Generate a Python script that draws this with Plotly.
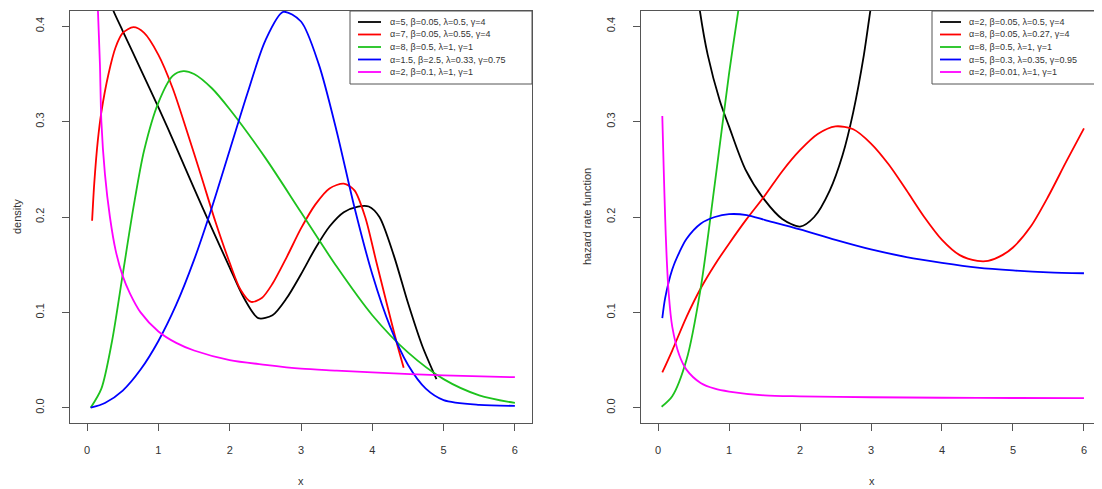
import plotly.graph_objects as go

# ---------------- data ----------------
# Left panel: density
d_black_x = [0.33, 0.37, 0.5, 0.75, 1.0, 1.25, 1.5, 1.75, 2.0, 2.2, 2.4, 2.6, 2.8, 3.0, 3.2, 3.4, 3.6, 3.8, 3.95, 4.1, 4.3, 4.5, 4.7, 4.9]
d_black_y = [0.425, 0.416, 0.395, 0.355, 0.315, 0.273, 0.23, 0.188, 0.147, 0.115, 0.094, 0.097, 0.115, 0.14, 0.167, 0.19, 0.205, 0.211, 0.211, 0.2, 0.16, 0.11, 0.065, 0.03]

d_red_x = [0.07, 0.1, 0.15, 0.2, 0.3, 0.4, 0.5, 0.65, 0.8, 1.0, 1.2, 1.4, 1.6, 1.8, 2.0, 2.15, 2.3, 2.45, 2.6, 2.8, 3.0, 3.2, 3.4, 3.6, 3.75, 3.9, 4.05, 4.2, 4.35, 4.44]
d_red_y = [0.196, 0.235, 0.28, 0.31, 0.35, 0.378, 0.393, 0.399, 0.393, 0.37, 0.335, 0.29, 0.243, 0.195, 0.152, 0.124, 0.111, 0.115, 0.13, 0.158, 0.188, 0.213, 0.23, 0.235, 0.228, 0.2, 0.155, 0.11, 0.066, 0.042]

d_green_x = [0.05, 0.2, 0.35, 0.5, 0.65, 0.8, 1.0, 1.2, 1.35, 1.5, 1.75, 2.0, 2.5, 3.0, 3.5, 4.0, 4.5, 5.0, 5.5, 6.0]
d_green_y = [0.0, 0.02, 0.07, 0.14, 0.21, 0.27, 0.32, 0.348, 0.353, 0.35, 0.335, 0.313, 0.262, 0.205, 0.148, 0.097, 0.058, 0.03, 0.013, 0.005]

d_blue_x = [0.05, 0.25, 0.5, 0.75, 1.0, 1.25, 1.5, 1.75, 2.0, 2.25, 2.5, 2.75, 3.0, 3.25, 3.5, 3.75, 4.0, 4.25, 4.5, 4.75, 5.0, 5.5, 6.0]
d_blue_y = [0.0, 0.005, 0.018, 0.04, 0.07, 0.108, 0.155, 0.21, 0.27, 0.33, 0.385, 0.415, 0.405, 0.36, 0.29, 0.21, 0.14, 0.085, 0.045, 0.02, 0.008, 0.003, 0.002]

d_mag_x = [0.13, 0.15, 0.18, 0.2, 0.25, 0.32, 0.4, 0.5, 0.6, 0.75, 1.0, 1.25, 1.5, 2.0, 2.5, 3.0, 3.5, 4.0, 5.0, 6.0]
d_mag_y = [0.47, 0.42, 0.36, 0.3, 0.245, 0.2, 0.165, 0.138, 0.12, 0.1, 0.08, 0.068, 0.06, 0.05, 0.045, 0.041, 0.039, 0.037, 0.034, 0.032]

# Right panel: hazard rate function
h_black_x = [0.55, 0.59, 0.7, 0.87, 1.0, 1.23, 1.5, 1.75, 2.0, 2.2, 2.42, 2.6, 2.75, 2.9, 2.99, 3.02]
h_black_y = [0.44, 0.416, 0.37, 0.322, 0.295, 0.25, 0.218, 0.198, 0.19, 0.2, 0.228, 0.265, 0.31, 0.37, 0.416, 0.43]

h_red_x = [0.06, 0.2, 0.4, 0.6, 0.8, 1.0, 1.25, 1.5, 1.75, 2.0, 2.25, 2.5, 2.75, 3.0, 3.25, 3.5, 3.75, 4.0, 4.25, 4.5, 4.65, 4.85, 5.0, 5.25, 5.5, 5.75, 6.0]
h_red_y = [0.037, 0.06, 0.095, 0.125, 0.15, 0.172, 0.198, 0.222, 0.248, 0.27, 0.287, 0.295, 0.292, 0.277, 0.255, 0.228, 0.2, 0.176, 0.16, 0.154, 0.154, 0.16, 0.168, 0.19, 0.222, 0.258, 0.293]

h_green_x = [0.05, 0.2, 0.4, 0.6, 0.8, 1.0, 1.13, 1.16]
h_green_y = [0.001, 0.012, 0.05, 0.125, 0.235, 0.35, 0.416, 0.43]

h_blue_x = [0.06, 0.1, 0.2, 0.3, 0.4, 0.6, 0.8, 1.0, 1.25, 1.5, 2.0, 2.5, 3.0, 3.5, 4.0, 4.5, 5.0, 5.5, 6.0]
h_blue_y = [0.094, 0.115, 0.145, 0.163, 0.177, 0.193, 0.2, 0.203, 0.202, 0.197, 0.187, 0.176, 0.166, 0.158, 0.152, 0.147, 0.144, 0.142, 0.141]

h_mag_x = [0.06, 0.08, 0.1, 0.12, 0.15, 0.2, 0.3, 0.4, 0.6, 0.8, 1.0, 1.5, 2.0, 3.0, 4.0, 5.0, 6.0]
h_mag_y = [0.306, 0.25, 0.2, 0.16, 0.12, 0.085, 0.055, 0.04, 0.026, 0.02, 0.017, 0.013, 0.012, 0.011, 0.0105, 0.0102, 0.01]

colors = ["#000000", "#FF0000", "#1DC21D", "#0000FF", "#FF00FF"]

left_labels = [
    "α=5, β=0.05, λ=0.5, γ=4",
    "α=7, β=0.05, λ=0.55, γ=4",
    "α=8, β=0.5, λ=1, γ=1",
    "α=1.5, β=2.5, λ=0.33, γ=0.75",
    "α=2, β=0.1, λ=1, γ=1",
]
right_labels = [
    "α=2, β=0.05, λ=0.5, γ=4",
    "α=8, β=0.05, λ=0.27, γ=4",
    "α=8, β=0.5, λ=1, γ=1",
    "α=5, β=0.3, λ=0.35, γ=0.95",
    "α=2, β=0.01, λ=1, γ=1",
]

x_ticks = [0, 1, 2, 3, 4, 5, 6]
y_ticks = [0.0, 0.1, 0.2, 0.3, 0.4]
y_tick_text = ["0.0", "0.1", "0.2", "0.3", "0.4"]

# ---------------- figure ----------------
# The page body has an 8px default margin, so the figure is drawn 8px
# smaller and positions are given in window pixels minus that offset.
OFF = 8
W, H = 1102 - OFF, 489 - OFF
FONT = "Liberation Sans, Arial, Helvetica, sans-serif"
TXT = "#333333"
FRAME = "#555555"

def fx(p):
    return (p - OFF) / W

def fy(p):
    return 1 - (p - OFF) / H

fig = go.Figure()

left_series = [(d_black_x, d_black_y), (d_red_x, d_red_y), (d_green_x, d_green_y),
               (d_blue_x, d_blue_y), (d_mag_x, d_mag_y)]
right_series = [(h_black_x, h_black_y), (h_red_x, h_red_y), (h_green_x, h_green_y),
                (h_blue_x, h_blue_y), (h_mag_x, h_mag_y)]

for (xs, ys), c, lab in zip(left_series, colors, left_labels):
    fig.add_trace(go.Scatter(x=xs, y=ys, mode="lines", name=lab,
                             line=dict(color=c, width=1.8, shape="spline", smoothing=0.8),
                             xaxis="x", yaxis="y", showlegend=False))
for (xs, ys), c, lab in zip(right_series, colors, right_labels):
    fig.add_trace(go.Scatter(x=xs, y=ys, mode="lines", name=lab,
                             line=dict(color=c, width=1.8, shape="spline", smoothing=0.8),
                             xaxis="x2", yaxis="y2", showlegend=False))

xcommon = dict(range=[-0.24, 6.24], tickvals=x_ticks, ticks="outside", ticklen=7,
               tickcolor=FRAME, tickwidth=1, showline=True, mirror=True,
               linecolor=FRAME, linewidth=1, showgrid=False, zeroline=False,
               tickfont=dict(family=FONT, size=11, color=TXT), ticklabelstandoff=10)
ycommon = dict(range=[-0.016, 0.416], tickvals=y_ticks, ticktext=y_tick_text,
               ticks="outside", ticklen=7, tickcolor=FRAME, tickwidth=1,
               showline=True, mirror=True, linecolor=FRAME, linewidth=1,
               showgrid=False, zeroline=False, tickangle=-90,
               tickfont=dict(family=FONT, size=11, color=TXT), ticklabelstandoff=14)

ydom = [fy(423), fy(11)]
fig.update_layout(
    width=W, height=H,
    margin=dict(l=0, r=0, t=0, b=0),
    paper_bgcolor="white", plot_bgcolor="white",
    showlegend=False,
    xaxis=dict(domain=[fx(70), fx(532)], anchor="y", **xcommon),
    yaxis=dict(domain=ydom, anchor="x", **ycommon),
    xaxis2=dict(domain=[fx(641), fx(1101)], anchor="y2", **xcommon),
    yaxis2=dict(domain=ydom, anchor="x2", **ycommon),
)

# axis titles
annos = []
for txt, x, y, ang in [("density", 17, 217, -90), ("hazard rate function", 587, 217, -90),
                       ("x", 301, 481, 0), ("x", 872, 481, 0)]:
    annos.append(dict(text=txt, x=fx(x), y=fy(y), xref="paper", yref="paper",
                      showarrow=False, textangle=ang, xanchor="center", yanchor="middle",
                      font=dict(family=FONT, size=11, color=TXT)))

# legends (R-style boxed legends at top-right of each panel)
shapes = []
row_y = [22, 34.5, 47, 59.5, 72]
for (bx0, bx1, lx0, lx1, tx), labels in [((350, 532, 358, 381, 388), left_labels),
                                         ((932, 1101, 940, 961, 967), right_labels)]:
    shapes.append(dict(type="rect", xref="paper", yref="paper",
                       x0=fx(bx0), x1=fx(bx1), y0=fy(84), y1=fy(11),
                       line=dict(color=FRAME, width=1), fillcolor="rgba(0,0,0,0)"))
    for ry, c, lab in zip(row_y, colors, labels):
        shapes.append(dict(type="line", xref="paper", yref="paper",
                           x0=fx(lx0), x1=fx(lx1), y0=fy(ry), y1=fy(ry),
                           line=dict(color=c, width=1.8)))
        annos.append(dict(text=lab, x=fx(tx), y=fy(ry), xref="paper", yref="paper",
                          showarrow=False, xanchor="left", yanchor="middle",
                          font=dict(family=FONT, size=9, color=TXT)))

fig.update_layout(annotations=annos, shapes=shapes)
fig.write_html("out.html")
